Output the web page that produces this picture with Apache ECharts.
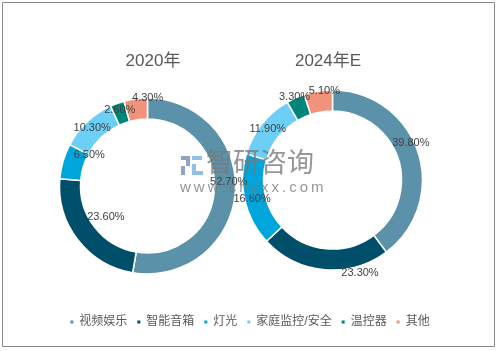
<!DOCTYPE html>
<html>
<head>
<meta charset="utf-8">
<script src="https://cdn.jsdelivr.net/npm/echarts@6/dist/echarts.min.js"></script>
<style>
  html, body { margin: 0; padding: 0; background: #fff; }
  #chart { width: 498px; height: 351px; }
</style>
</head>
<body>
<div id="chart"></div>
<script>
const categories = ['视频娱乐', '智能音箱', '灯光', '家庭监控/安全', '温控器', '其他'];
const values_2020 = [52.7, 23.6, 6.5, 10.3, 2.6, 4.3];
const values_2024 = [39.8, 23.3, 16.6, 11.9, 3.3, 5.1];
const titles = ['2020年', '2024年E'];
const colors = ['#5b91a9', '#004f6a', '#00a5db', '#6dcff6', '#00857b', '#f0937a'];

// small nudges so the data labels sit where the original (Excel) put them
const label_nudge = [
    [[1, -11], [22, -18], [19, -8], [0, 0], [0, 0], [11, -8]],
    [[0, -11], [35, 11], [0, 0], [0, 0], [-4, -8], [5, -8]]
];

const FONT = '"Liberation Sans", "Noto Sans CJK SC", sans-serif';
const WM = 'rgba(120,120,120,0.78)';

let chart = echarts.init(document.getElementById('chart'));

function make_series(name, values, center, radius) {
    return {
        name: name,
        type: 'pie',
        center: center,
        radius: radius,
        startAngle: 90,
        clockwise: true,
        avoidLabelOverlap: false,
        itemStyle: { borderColor: '#fff', borderWidth: 1.5 },
        label: {
            show: true,
            position: 'inside',
            color: '#404040',
            fontSize: 11,
            fontFamily: FONT,
            formatter: p => p.value.toFixed(2) + '%'
        },
        labelLayout: function (params) {
            let n = label_nudge[params.seriesIndex][params.dataIndex];
            return { dx: n[0], dy: n[1], hideOverlap: false };
        },
        labelLine: { show: false },
        emphasis: { disabled: true },
        data: categories.map((c, i) => ({ name: c, value: values[i] }))
    };
}

let option = {
    animation: false,
    color: colors,
    title: [
        { text: titles[0], left: 148, top: 48, textAlign: 'center',
          textStyle: { fontSize: 17, fontWeight: 'normal', color: '#595959', fontFamily: FONT } },
        { text: titles[1], left: 323, top: 48, textAlign: 'center',
          textStyle: { fontSize: 17, fontWeight: 'normal', color: '#595959', fontFamily: FONT } }
    ],
    legend: {
        bottom: 18,
        left: 'center',
        icon: 'rect',
        itemWidth: 5,
        itemHeight: 5,
        itemGap: 8,
        textStyle: { fontSize: 12, color: '#595959', fontFamily: FONT },
        data: categories
    },
    series: [
        make_series(titles[0], values_2020, [147.5, 186], [67, 88]),
        make_series(titles[1], values_2024, [332.5, 180], [69, 90])
    ],
    graphic: [
        { type: 'rect', shape: { x: 2.5, y: 2.5, width: 492, height: 344 },
          style: { fill: 'none', stroke: '#888', lineWidth: 1 }, silent: true },
        // watermark
        { type: 'rect', z: 100, silent: true, shape: { x: 181, y: 156, width: 9, height: 4 }, style: { fill: 'rgba(110,130,180,0.75)' } },
        { type: 'rect', z: 100, silent: true, shape: { x: 186, y: 160, width: 4, height: 6 }, style: { fill: 'rgba(110,130,180,0.75)' } },
        { type: 'rect', z: 100, silent: true, shape: { x: 181, y: 166, width: 4, height: 9 }, style: { fill: 'rgba(110,130,180,0.75)' } },
        { type: 'rect', z: 100, silent: true, shape: { x: 192, y: 156, width: 10, height: 4 }, style: { fill: 'rgba(110,170,220,0.75)' } },
        { type: 'rect', z: 100, silent: true, shape: { x: 192, y: 164, width: 4, height: 11 }, style: { fill: 'rgba(110,170,220,0.75)' } },
        { type: 'rect', z: 100, silent: true, shape: { x: 196, y: 171, width: 7, height: 4 }, style: { fill: 'rgba(110,170,220,0.75)' } },
        { type: 'text', z: 100, silent: true, left: 206, top: 151,
          style: { text: '智研咨询', fontSize: 27, fill: WM, fontFamily: FONT } },
        { type: 'text', z: 100, silent: true, left: 180, top: 180,
          style: { text: 'w\u2009w\u2009w\u2009.\u2009c\u2009h\u2009y\u2009x\u2009x\u2009.\u2009c\u2009o\u2009m', fontSize: 15, fill: WM, fontFamily: FONT } }
    ]
};

chart.setOption(option);
</script>
</body>
</html>
